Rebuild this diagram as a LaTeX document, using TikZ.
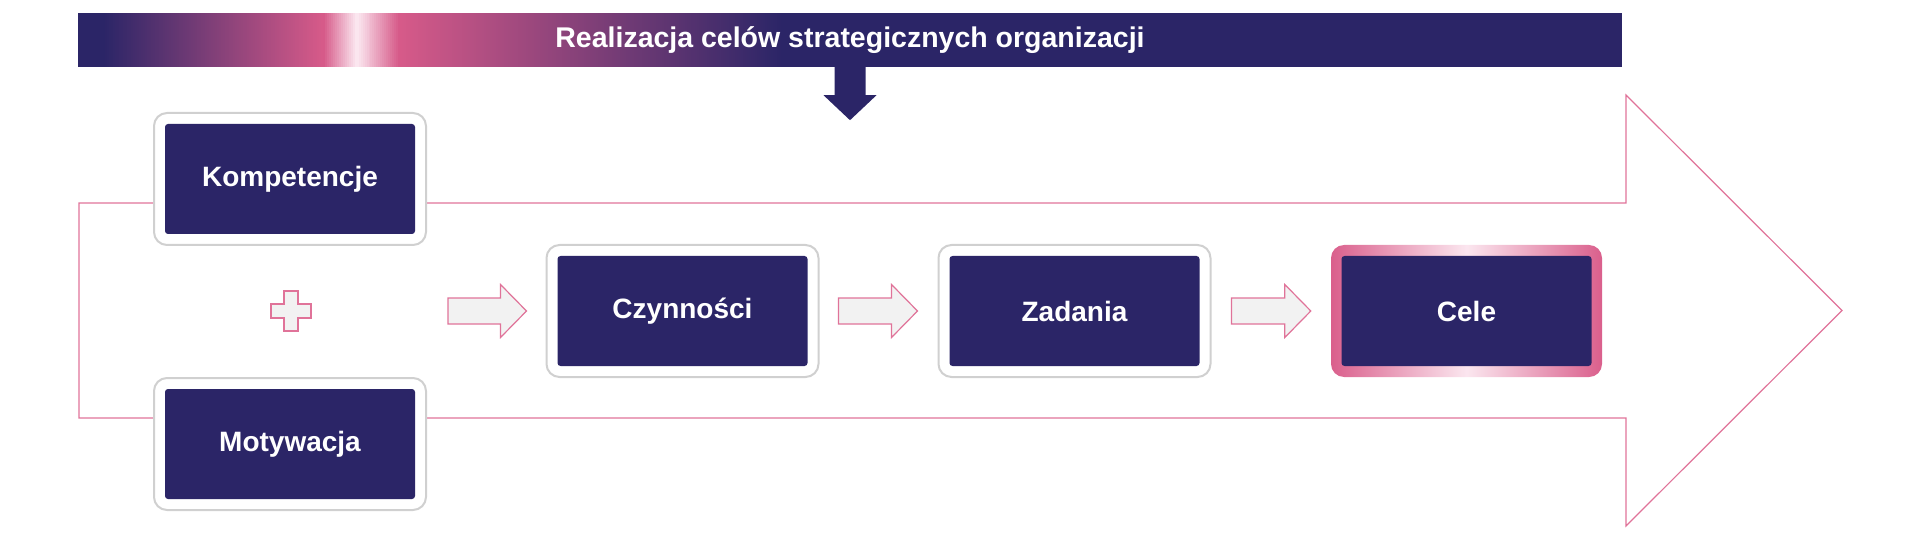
\documentclass[tikz,border=0pt]{standalone}
\usepackage{fontspec}
\setmainfont{Liberation Sans}
\usetikzlibrary{calc}
\definecolor{navy}{HTML}{2B2567}
\definecolor{pinkc}{HTML}{D65A89}
\definecolor{celepk}{HTML}{DA5F8C}
\definecolor{lightpk}{HTML}{FBE6EF}
\definecolor{linepk}{HTML}{E07399}
\definecolor{graybd}{HTML}{D0D0D0}
\definecolor{arrfill}{HTML}{F2F2F2}
\newcommand\gradseg[5]{%
  \foreach \i in {0,...,#5}{%
    \pgfmathsetmacro\p{\i/#5*100}%
    \pgfmathsetmacro\xa{#1+(#2-#1)/(#5+1)*\i}%
    \pgfmathsetmacro\xb{#1+(#2-#1)/(#5+1)*(\i+1)+0.7}%
    \fill[#4!\p!#3] ($(banner.north west)+(\xa,0)$) rectangle ($(banner.south west)+(\xb,0)$);
  }}
\begin{document}
\begin{tikzpicture}[x=1pt,y=-1pt,
  outerbox/.style={draw=graybd, line width=2pt, fill=white, rounded corners=13pt,
    minimum width=272pt, minimum height=132pt, inner sep=0pt},
  celebox/.style={rounded corners=13pt, left color=celepk, right color=celepk, middle color=lightpk,
    minimum width=271pt, minimum height=132pt, inner sep=0pt},
  innerbox/.style={fill=navy, rounded corners=3pt, minimum width=250pt, minimum height=110pt,
    inner sep=0pt, text=white, font=\bfseries\fontsize{28}{32}\selectfont},
  hollow/.style={draw=linepk, line width=1.2pt, fill=arrfill, line join=miter},
  blockar/.style={hollow, to path={let \p1=(\tikztostart), \p2=(\tikztotarget) in
    (\x1,\y1-13pt) -- (\x2-26pt,\y1-13pt) -- (\x2-26pt,\y1-26.5pt) -- (\x2,\y1)
    -- (\x2-26pt,\y1+26.5pt) -- (\x2-26pt,\y1+13pt) -- (\x1,\y1+13pt) -- cycle}},
  bigarrow/.style={draw=linepk, line width=1.2pt, line join=miter}
]
\useasboundingbox (0,0) rectangle (1920,540);

% banner
\node[fill=navy, minimum width=1544pt, minimum height=54pt, inner sep=0pt] (banner) at (850,40) {};
\gradseg{25}{245}{navy}{pinkc}{109}
\gradseg{245}{279}{pinkc}{lightpk}{16}
\gradseg{279}{322}{lightpk}{pinkc}{21}
\gradseg{322}{705}{pinkc}{navy}{190}
\node[text=white, font=\bfseries\fontsize{28.5}{32}\selectfont] (title) at (banner.center) {Realizacja celów strategicznych organizacji};

% down arrow
\fill[navy] ($(banner.south)+(-15.5,-1)$) -- ++(0,29) -- ++(-11,0) -- ($(banner.south)+(0,53)$)
  -- ++(26.5,-25) -- ++(-11,0) -- ++(0,-29) -- cycle;

% big outline arrow
\draw[bigarrow] (79,203) -- (1626,203) -- (1626,95) -- (1842,310.5) -- (1626,526) -- (1626,418) -- (79,418) -- cycle;

% left boxes
\node[outerbox] (komo) at (290,179) {};
\node[innerbox] (kom) at (komo.center) {Kompetencje};
\node[outerbox] (moto) at (290,444) {};
\node[innerbox] (mot) at (moto.center) {Motywacja};

% plus
\coordinate (plus) at (291,311);
\draw[hollow] (plus) ++(-7,-20) -- ++(14,0) -- ++(0,13) -- ++(13,0) -- ++(0,14) -- ++(-13,0)
  -- ++(0,13) -- ++(-14,0) -- ++(0,-13) -- ++(-13,0) -- ++(0,-14) -- ++(13,0) -- cycle;

% middle row
\node[outerbox] (czyo) at (682.5,311) {};
\node[innerbox] (czy) at (czyo.center) {Czynności};
\node[outerbox] (zado) at (1074.5,311) {};
\node[innerbox] (zad) at (zado.center) {Zadania};
\node[celebox] (celo) at (1466.5,311) {};
\node[innerbox] (cel) at (celo.center) {Cele};

% block arrows
\draw[blockar] ($(komo.east |- czyo.west)+(21,0)$) to ($(czyo.west)+(-19,0)$);
\draw[blockar] ($(czyo.east)+(19,0)$) to ($(zado.west)+(-20,0)$);
\draw[blockar] ($(zado.east)+(20,0)$) to ($(celo.west)+(-20,0)$);
\end{tikzpicture}
\end{document}
